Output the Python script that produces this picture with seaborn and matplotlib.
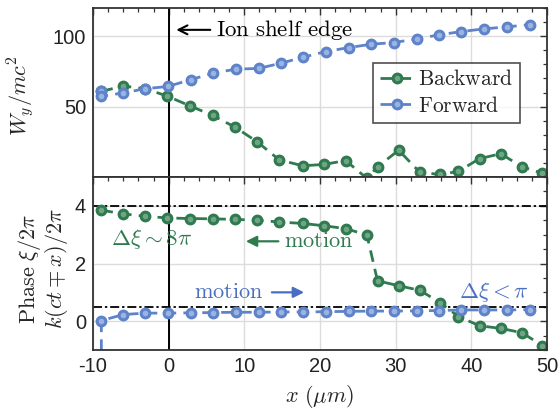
import matplotlib
matplotlib.use("Agg")
import matplotlib.pyplot as plt
from matplotlib.ticker import MultipleLocator
import numpy as np
import pandas as pd
import seaborn as sns

# ---------------- data ----------------
x_back = [-8.9, -6.0, -3.1, -0.2, 2.8, 5.8, 8.8, 11.7, 14.6, 17.7, 20.5, 23.4,
          26.2, 27.6, 30.4, 33.2, 35.9, 38.3, 41.1, 43.9, 46.7, 49.4]
w_back = [60.8, 64.6, 62.7, 57.5, 50.5, 43.8, 35.3, 25.0, 12.2, 8.0, 8.9, 11.7,
          -1.0, 7.3, 19.0, 3.3, 1.8, 4.0, 13.1, 16.5, 7.2, 2.7]
ph_back = [3.85, 3.72, 3.64, 3.58, 3.56, 3.55, 3.53, 3.50, 3.44, 3.39, 3.31, 3.21,
           2.99, 1.40, 1.23, 1.07, 0.64, 0.16, -0.16, -0.25, -0.40, -0.85]

x_fwd = [-8.9, -8.9, -6.0, -3.1, -0.1, 2.9, 5.9, 8.9, 11.9, 14.9, 17.8, 20.8,
         23.8, 26.8, 29.8, 32.8, 35.7, 38.7, 41.7, 44.7, 47.7]
w_fwd = [60.8, 57.3, 59.7, 62.7, 64.3, 69.1, 73.8, 76.6, 77.1, 80.9, 85.1, 89.1,
         91.9, 94.3, 95.5, 98.1, 100.9, 103.3, 105.2, 106.6, 108.2]
ph_fwd = [-3.0, 0.02, 0.23, 0.28, 0.28, 0.29, 0.30, 0.31, 0.31, 0.32, 0.32, 0.33,
          0.34, 0.35, 0.35, 0.36, 0.37, 0.39, 0.39, 0.39, 0.40]

x_ticks = [-10, 0, 10, 20, 30, 40, 50]
x_tick_labels = ["-10", "0", "10", "20", "30", "40", "50"]
w_ticks = [50, 100]
ph_ticks = [0, 2, 4]
ph_refs = [4.0, 0.5]

# ---------------- style ----------------
sns.set_theme(style="white")
plt.rcParams["font.family"] = ["Liberation Sans", "DejaVu Sans"]
plt.rcParams["mathtext.fontset"] = "cm"
plt.rcParams["axes.unicode_minus"] = False

green = "#2f7a4f"
green_light = "#6fa585"
blue = "#5f83c9"
blue_light = "#9bb3e2"
blue_text = "#4a6fc0"
spine_c = "#333333"

fig = plt.figure(figsize=(5.59, 4.13), dpi=100)
gs = fig.add_gridspec(2, 1, left=0.1664, right=0.9785, top=0.9806, bottom=0.1525,
                      hspace=0, height_ratios=[169, 173])
ax1 = fig.add_subplot(gs[0])
ax2 = fig.add_subplot(gs[1], sharex=ax1)

df_b = pd.DataFrame({"x": x_back, "w": w_back, "ph": ph_back})
df_f = pd.DataFrame({"x": x_fwd, "w": w_fwd, "ph": ph_fwd})

line_kw = dict(marker="o", markersize=6.3, markeredgewidth=2.2, linewidth=2.0,
               linestyle=(0, (4.2, 2.6)), estimator=None, sort=False)

for ax, col in [(ax1, "w"), (ax2, "ph")]:
    sns.lineplot(data=df_b, x="x", y=col, ax=ax, color=green,
                 markeredgecolor=green, markerfacecolor=green_light,
                 label=r"$\mathrm{Backward}$", **line_kw)
    sns.lineplot(data=df_f, x="x", y=col, ax=ax, color=blue,
                 markeredgecolor=blue, markerfacecolor=blue_light,
                 label=r"$\mathrm{Forward}$", **line_kw)
    ax.axvline(0, color="black", lw=1.4, zorder=1)

for yv in ph_refs:
    ax2.axhline(yv, color="black", lw=1.3, linestyle=(0, (5, 1.6, 1.3, 1.6)), zorder=1.5)

ax1.set_xlim(-10, 50)
ax1.set_ylim(0, 120)
ax2.set_ylim(-1, 5)
ax2.set_xticks(x_ticks)
ax2.set_xticklabels(x_tick_labels)
ax1.set_yticks(w_ticks)
ax2.set_yticks(ph_ticks)
ax1.xaxis.set_minor_locator(MultipleLocator(2))
ax1.yaxis.set_minor_locator(MultipleLocator(10))
ax2.yaxis.set_minor_locator(MultipleLocator(0.5))
plt.setp(ax1.get_xticklabels(), visible=False)

for ax in (ax1, ax2):
    ax.grid(True, which="major", color="#dcdcdc", lw=1.0)
    ax.set_axisbelow(True)
    ax.tick_params(which="both", direction="in", top=True, right=True,
                   color=spine_c, labelsize=14.5, labelcolor="#222222")
    ax.tick_params(which="major", length=5, width=1.0, pad=5)
    ax.tick_params(which="minor", length=3, width=0.9)
    for s in ax.spines.values():
        s.set_color(spine_c)
        s.set_linewidth(1.3)
    ax.set_xlabel("")
    ax.set_ylabel("")

ax1.set_ylabel(r"$W_y/mc^2$", fontsize=16)
ax1.yaxis.set_label_coords(-0.125, 0.48)
ax2.set_ylabel(r"$\mathrm{Phase}\ \xi/2\pi$" + "\n" + r"$k(ct\mp x)/2\pi$",
               fontsize=16, linespacing=1.0)
ax2.yaxis.set_label_coords(-0.05, 0.47)
ax2.set_xlabel(r"$x\ (\mu m)$", fontsize=16, labelpad=5)

leg = ax1.legend(loc="upper left", bbox_to_anchor=(0.617, 0.675), borderaxespad=0,
                 fontsize=15.5, frameon=True, fancybox=False, handlelength=1.6,
                 handletextpad=0.2, borderpad=0.3, labelspacing=0.25)
leg.get_frame().set_edgecolor("#222222")
leg.get_frame().set_linewidth(1.2)
if ax2.get_legend():
    ax2.get_legend().remove()

ax1.annotate(r"$\mathrm{Ion\ shelf\ edge}$", xy=(1.0, 104.5), xytext=(6.3, 104.5),
             va="center", ha="left", fontsize=16.5, color="black",
             arrowprops=dict(arrowstyle="->", color="black", lw=1.5,
                             shrinkA=2, shrinkB=0, mutation_scale=16))

ax2.text(-7.6, 2.84, r"$\Delta\xi\sim 8\pi$", color=green, fontsize=16.5,
         ha="left", va="center")
ax2.annotate(r"$\mathrm{motion}$", xy=(10.2, 2.77), xytext=(15.3, 2.77),
             va="center", ha="left", fontsize=16, color=green,
             arrowprops=dict(arrowstyle="-|>", color=green, lw=1.6,
                             shrinkA=2, shrinkB=0, mutation_scale=16))
ax2.annotate(r"$\mathrm{motion}$", xy=(17.9, 1.0), xytext=(3.3, 1.0),
             va="center", ha="left", fontsize=16, color=blue_text,
             arrowprops=dict(arrowstyle="-|>", color=blue_text, lw=1.6,
                             shrinkA=4, shrinkB=0, mutation_scale=16))
ax2.text(38.4, 1.02, r"$\Delta\xi<\pi$", color=blue_text, fontsize=16.5,
         ha="left", va="center")

fig.savefig("out.png", dpi=100)
